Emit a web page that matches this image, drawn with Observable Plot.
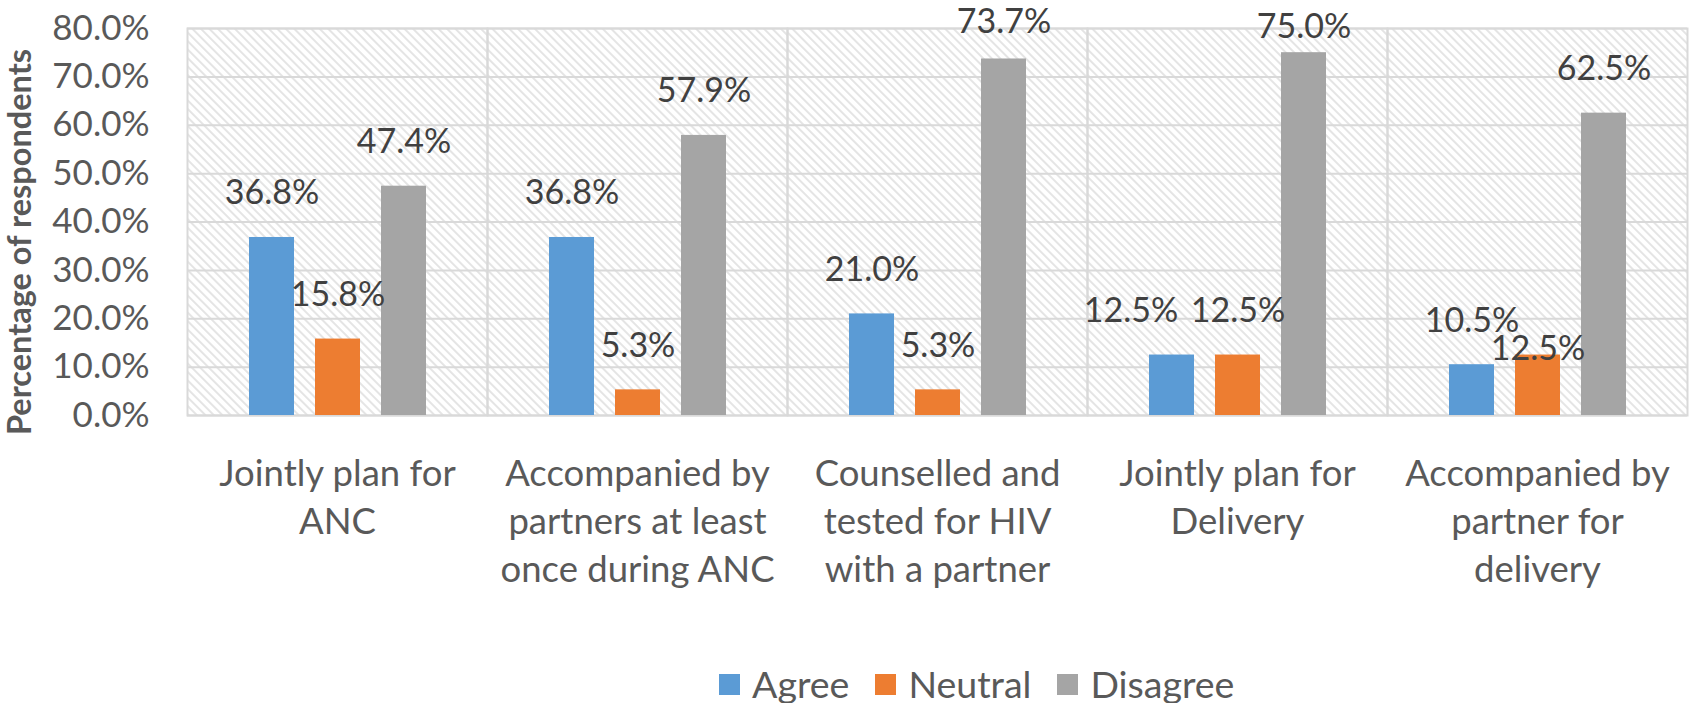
<!DOCTYPE html>
<html>
<head>
<meta charset="utf-8">
<script src="https://cdn.jsdelivr.net/npm/d3@7"></script>
<script src="https://cdn.jsdelivr.net/npm/@observablehq/plot@0.6"></script>
<style>
  body { margin: 0; background: #fff; }
  #wrap { width: 1689px; font-family: Lato, "Open Sans", sans-serif; }
  #legend { display: flex; align-items: center; padding-left: 719px;
            margin-top: 15px; font-size: 37.5px; line-height: 38px; color: #595959; }
  #legend .item { display: flex; align-items: center; margin-right: 26px; }
  #legend .sw { display: inline-block; width: 21px; height: 21px; margin-right: 12px; }
</style>
</head>
<body>
<div id="wrap"></div>
<script>
const categories = [
  "Jointly plan for ANC",
  "Accompanied by partners at least once during ANC",
  "Counselled and tested for HIV with a partner",
  "Jointly plan for Delivery",
  "Accompanied by partner for delivery"
];
const categoryLabels = [
  "Jointly plan for\nANC",
  "Accompanied by\npartners at least\nonce during ANC",
  "Counselled and\ntested for HIV\nwith a partner",
  "Jointly plan for\nDelivery",
  "Accompanied by\npartner for\ndelivery"
];
const series = ["Agree", "Neutral", "Disagree"];
const agree = [36.8, 36.8, 21.0, 12.5, 10.5];
const neutral = [15.8, 5.3, 5.3, 12.5, 12.5];
const disagree = [47.4, 57.9, 73.7, 75.0, 62.5];
const yTicks = [0, 10, 20, 30, 40, 50, 60, 70, 80];
const colors = ["#5b9bd5", "#ed7d31", "#a5a5a5"];
const yTitle = "Percentage of respondents";

const valuesBySeries = [agree, neutral, disagree];
const data = [];
categories.forEach((c, i) => {
  series.forEach((s, j) => data.push({category: c, series: s, value: valuesBySeries[j][i] / 100}));
});
const labelOf = new Map(categories.map((c, i) => [c, categoryLabels[i]]));
const pct = d3.format(".1%");

const is = (ci, s) => d => d.category === categories[ci] && d.series === s;
const special = d => is(3, "Agree")(d) || is(3, "Disagree")(d) || is(4, "Neutral")(d) || is(2, "Disagree")(d);
const textOpts = {fx: "category", x: "series", y: "value", text: d => pct(d.value),
  lineAnchor: "bottom", fontSize: 34, fill: "#404040"};

const chart = Plot.plot({
  width: 1689,
  height: 650,
  marginLeft: 186,
  marginRight: 2,
  marginTop: 28,
  marginBottom: 235,
  style: {fontFamily: "Lato, 'Open Sans', sans-serif", background: "#fff", overflow: "visible"},
  fx: {domain: categories, padding: 0, label: null},
  x: {domain: series, paddingInner: 0.32, paddingOuter: 0.93, axis: null},
  y: {domain: [0, 0.8]},
  color: {domain: series, range: colors},
  marks: [
    Plot.frame({fill: "url(#hatch)", stroke: "none"}),
    Plot.gridY(yTicks.map(t => t / 100), {stroke: "#d9d9d9", strokeOpacity: 1, strokeWidth: 2}),
    Plot.frame({stroke: "#d9d9d9", strokeWidth: 2}),
    Plot.barY(data, {fx: "category", x: "series", y: "value", fill: "series"}),
    Plot.text(data, {...textOpts, filter: d => !special(d), dy: -33}),
    Plot.text(data, {...textOpts, filter: is(2, "Disagree"), dy: -26}),
    Plot.text(data, {...textOpts, filter: is(3, "Agree"), dx: -41, dy: -33}),
    Plot.text(data, {...textOpts, filter: is(3, "Disagree"), dy: -15}),
    Plot.text(data, {...textOpts, filter: is(4, "Neutral"), dy: 5}),
    Plot.axisY(yTicks.map(t => t / 100), {tickFormat: ".1%", tickSize: 0, tickPadding: 38,
      fontSize: 35, fill: "#595959", label: null}),
    Plot.axisFx({anchor: "bottom", tickFormat: c => labelOf.get(c), tickSize: 0, tickPadding: 36, fontSize: 36.5,
      lineHeight: 1.315, fill: "#595959", label: null})
  ]
});

// hatch pattern for the plot area background
const svg = d3.select(chart);
const defs = svg.insert("defs", ":first-child");
const pat = defs.append("pattern")
  .attr("id", "hatch")
  .attr("patternUnits", "userSpaceOnUse")
  .attr("width", 6).attr("height", 6)
  .attr("patternTransform", "rotate(-45)");
pat.append("rect").attr("width", 6).attr("height", 6).attr("fill", "#fff");
pat.append("line").attr("x1", 1).attr("y1", 0).attr("x2", 1).attr("y2", 6)
  .attr("stroke", "#e2e2e2").attr("stroke-width", 1.8);

// y axis title
svg.append("text")
  .attr("transform", "translate(31,242) rotate(-90)")
  .attr("text-anchor", "middle")
  .attr("font-family", "Lato, 'Open Sans', sans-serif")
  .attr("font-weight", "bold")
  .attr("font-size", 32.5)
  .attr("fill", "#595959")
  .text(yTitle);

const wrap = document.getElementById("wrap");
wrap.appendChild(chart);

const legend = d3.select(wrap).append("div").attr("id", "legend");
series.forEach((s, i) => {
  const it = legend.append("div").attr("class", "item");
  it.append("span").attr("class", "sw").style("background", colors[i]);
  it.append("span").text(s);
});
</script>
</body>
</html>
